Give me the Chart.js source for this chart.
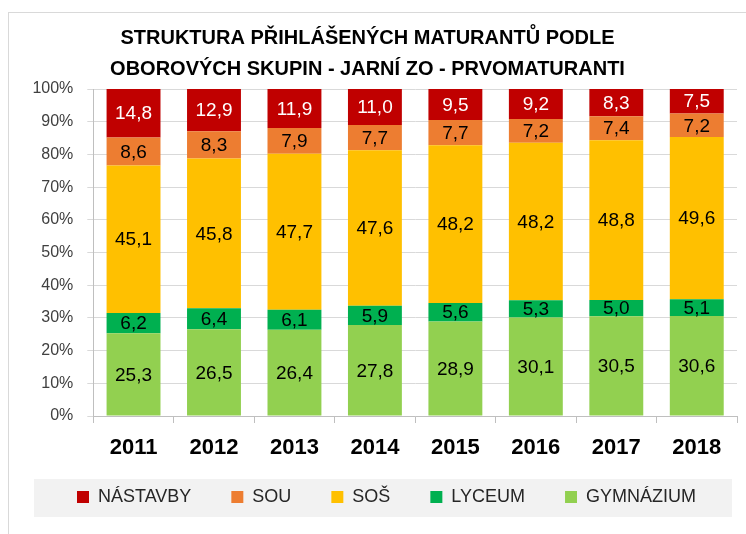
<!DOCTYPE html>
<html>
<head>
<meta charset="utf-8">
<style>
html,body{margin:0;padding:0;background:#fff;}
#wrap{width:746px;height:534px;position:relative;}
canvas{display:block;}
</style>
<script src="https://cdn.jsdelivr.net/npm/chart.js@4/dist/chart.umd.min.js"></script>
</head>
<body>
<div id="wrap"><canvas id="c" width="746" height="534"></canvas></div>
<script>
// ---- data ----
const years = ['2011', '2012', '2013', '2014', '2015', '2016', '2017', '2018'];
const gymnazium = [25.3, 26.5, 26.4, 27.8, 28.9, 30.1, 30.5, 30.6];
const lyceum    = [6.2, 6.4, 6.1, 5.9, 5.6, 5.3, 5.0, 5.1];
const sos       = [45.1, 45.8, 47.7, 47.6, 48.2, 48.2, 48.8, 49.6];
const sou       = [8.6, 8.3, 7.9, 7.7, 7.7, 7.2, 7.4, 7.2];
const nastavby  = [14.8, 12.9, 11.9, 11.0, 9.5, 9.2, 8.3, 7.5];
const seriesNames = ['GYMNÁZIUM', 'LYCEUM', 'SOŠ', 'SOU', 'NÁSTAVBY'];
const yTickValues = [0, 10, 20, 30, 40, 50, 60, 70, 80, 90, 100];
const titleLines = ['STRUKTURA PŘIHLÁŠENÝCH MATURANTŮ PODLE', 'OBOROVÝCH SKUPIN - JARNÍ ZO - PRVOMATURANTI'];

// ---- styles ----
const FONT = '"Liberation Sans", Arial, sans-serif';
const seriesColors = ['#92D050', '#00B050', '#FFC000', '#ED7D31', '#C00000'];
const labelColors = ['#000000', '#000000', '#000000', '#000000', '#FFFFFF'];

const rawSeries = [gymnazium, lyceum, sos, sou, nastavby];
const totals = years.map((_, j) => rawSeries.reduce((s, arr) => s + arr[j], 0));
const pctSeries = rawSeries.map(arr => arr.map((v, j) => v / totals[j] * 100));

const datasets = seriesNames.map((name, i) => ({
  label: name,
  data: pctSeries[i],
  backgroundColor: seriesColors[i],
  borderWidth: 0,
  barPercentage: 0.67,
  categoryPercentage: 1.0
}));

const decorPlugin = {
  id: 'decor',
  afterLayout(chart) {
    chart.titleBlock.left -= 5;
    chart.titleBlock.right -= 5;
    chart.legend.left += 14;
    chart.legend.right += 14;
    chart.legend.top -= 16;
    chart.legend.bottom -= 16;
  },
  beforeDraw(chart) {
    const ctx = chart.ctx;
    ctx.save();
    ctx.fillStyle = '#ffffff';
    ctx.fillRect(0, 0, chart.width, chart.height);
    ctx.strokeStyle = '#d9d9d9';
    ctx.lineWidth = 1;
    ctx.strokeRect(8.5, 12.5, 900, 700);
    const lg = chart.legend;
    const midY = lg.top + 40 + 9;
    ctx.fillStyle = '#f2f2f2';
    ctx.fillRect(34, midY - 18, 698, 38);
    ctx.restore();
  },
  afterDatasetsDraw(chart) {
    const ctx = chart.ctx;
    ctx.save();
    ctx.font = '19px ' + FONT;
    ctx.textAlign = 'center';
    ctx.textBaseline = 'middle';
    chart.data.datasets.forEach((ds, i) => {
      const meta = chart.getDatasetMeta(i);
      ctx.fillStyle = labelColors[i];
      meta.data.forEach((bar, j) => {
        const v = rawSeries[i][j];
        ctx.fillText(v.toFixed(1).replace('.', ','), bar.x, (bar.y + bar.base) / 2 + 1);
      });
    });
    ctx.restore();
  }
};

new Chart(document.getElementById('c'), {
  type: 'bar',
  data: { labels: years, datasets },
  options: {
    responsive: false,
    animation: false,
    devicePixelRatio: 1,
    layout: { padding: { top: 13, left: 8, right: 9, bottom: 2 } },
    plugins: {
      title: {
        display: true,
        text: titleLines,
        color: '#000000',
        font: { family: FONT, size: 20, weight: 'bold', lineHeight: 1.57 },
        padding: { top: 9.6, bottom: 3.6 }
      },
      legend: {
        display: true,
        position: 'bottom',
        reverse: true,
        labels: {
          boxWidth: 12,
          boxHeight: 12,
          padding: 40,
          color: '#262626',
          font: { family: FONT, size: 18 }
        }
      },
      tooltip: { enabled: false }
    },
    scales: {
      x: {
        stacked: true,
        grid: { display: true, drawOnChartArea: false, drawTicks: true, tickLength: 7, color: '#bfbfbf', offset: true },
        border: { display: true, color: '#bfbfbf' },
        ticks: { color: '#000000', font: { family: FONT, size: 22, weight: 'bold' }, padding: 12, maxRotation: 0 },
        afterFit(s) { s.height = 48; }
      },
      y: {
        stacked: true,
        min: 0,
        max: 100,
        afterBuildTicks(s) { s.ticks = yTickValues.map(v => ({ value: v })); },
        ticks: { callback: v => v + '%', color: '#404040', font: { family: FONT, size: 16 }, padding: 14 },
        grid: { color: '#d9d9d9', tickLength: 6, tickColor: '#d9d9d9' },
        border: { display: true, color: '#bfbfbf' },
        afterFit(s) { s.width = 85.3; }
      }
    }
  },
  plugins: [decorPlugin]
});
</script>
</body>
</html>
